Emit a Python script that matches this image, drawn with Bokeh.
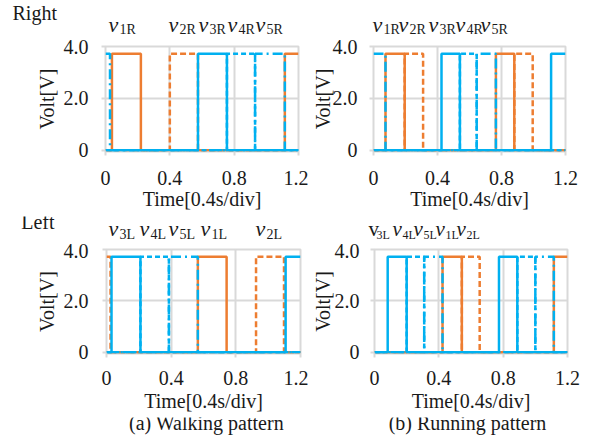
from bokeh.plotting import figure
from bokeh.layouts import row, column
from bokeh.models import FixedTicker, Range1d
from bokeh.core.properties import value
from bokeh.embed import file_html
from bokeh.resources import INLINE

# ---------------- data ----------------
HIGH = 3.72          # high level of every signal [V]
T_END = 1.2

x_ticks = [0, 0.4, 0.8, 1.2]
x_tick_labels = ["0", "0.4", "0.8", "1.2"]
y_ticks = [0, 2, 4]
y_tick_labels = ["0", "2.0", "4.0"]

# (on, off) times of each channel
# (a) walking pattern, right side
walk_v1R = [(0.04, 0.22), (1.115, 1.2)]
walk_v2R = [(0.40, 0.575)]
walk_v3R = [(0.575, 0.755)]
walk_v4R = [(0.755, 0.93)]
walk_v5R = [(0.0, 0.028), (0.93, 1.115)]
# (b) running pattern, right side
run_v1R = [(0.075, 0.195), (0.765, 0.88)]
run_v2R = [(0.195, 0.31), (0.88, 0.995)]
run_v3R = [(0.425, 0.54), (1.11, 1.2)]
run_v4R = [(0.54, 0.645)]
run_v5R = [(0.0, 0.075), (0.645, 0.765)]
# (a) walking pattern, left side
walk_v1L = [(0.565, 0.743)]
walk_v2L = [(0.0, 0.025), (0.925, 1.098)]
walk_v3L = [(0.031, 0.21), (1.108, 1.2)]
walk_v4L = [(0.21, 0.386)]
walk_v5L = [(0.386, 0.565)]
# (b) running pattern, left side
run_v1L = [(0.423, 0.543), (1.115, 1.2)]
run_v2L = [(0.543, 0.654)]
run_v3L = [(0.082, 0.20), (0.774, 0.888)]
run_v4L = [(0.20, 0.309), (0.888, 1.0)]
run_v5L = [(0.309, 0.423), (1.0, 1.115)]

right_names = ["1R", "2R", "3R", "4R", "5R"]
left_names = ["3L", "4L", "5L", "1L", "2L"]
side_titles = ["Right", "Left"]
captions = ["(a) Walking pattern", "(b) Running pattern"]
x_axis_title = "Time[0.4s/div]"
y_axis_title = "Volt[V]"

ORANGE = "#ED7D31"
BLUE = "#00B0F0"
GRID = "#d9d9d9"
TXT = "#1a1a1a"
FONT = "Liberation Serif"
W_ALL = 591
W_LEFT = 308
W_RIGHT = W_ALL - W_LEFT
Y0, Y1 = -0.05, 4.0


def wave(pulses):
    xs, ys = [0.0], [HIGH if pulses[0][0] <= 0 else 0.0]
    for a, b in pulses:
        if a > 0:
            xs += [a, a]
            ys += [0.0, HIGH]
        if b < T_END:
            xs += [b, b]
            ys += [HIGH, 0.0]
        else:
            xs.append(T_END)
            ys.append(HIGH)
    if xs[-1] < T_END:
        xs.append(T_END)
        ys.append(0.0)
    return xs, ys


def make_fig(W, H, box, xs_std, xl_std, ys_std, yl_std):
    fl, ft, fr, fb = box
    p = figure(width=W, height=H, x_range=Range1d(0, T_END), y_range=Range1d(Y0, Y1),
               output_backend="svg", toolbar_location=None, title=None,
               min_border_left=fl, min_border_top=ft,
               min_border_right=W - fr, min_border_bottom=H - fb)
    p.xaxis.ticker = FixedTicker(ticks=x_ticks)
    p.yaxis.ticker = FixedTicker(ticks=y_ticks)
    p.xaxis.major_label_overrides = {t: s for t, s in zip(x_ticks, x_tick_labels)}
    p.yaxis.major_label_overrides = {t: s for t, s in zip(y_ticks, y_tick_labels)}
    p.axis.axis_line_color = None
    p.axis.major_tick_line_color = GRID
    p.axis.major_tick_line_width = 2
    p.axis.major_tick_out = 4
    p.axis.major_tick_in = 0
    p.axis.minor_tick_line_color = None
    p.axis.major_label_text_font = FONT
    p.axis.major_label_text_font_size = "20px"
    p.axis.major_label_text_color = TXT
    p.xaxis.major_label_standoff = xs_std
    p.yaxis.major_label_standoff = ys_std
    p.xaxis.axis_label = x_axis_title
    p.yaxis.axis_label = y_axis_title
    p.axis.axis_label_text_font = FONT
    p.axis.axis_label_text_font_size = "20px"
    p.axis.axis_label_text_font_style = "normal"
    p.axis.axis_label_text_color = TXT
    p.xaxis.axis_label_standoff = xl_std
    p.yaxis.axis_label_standoff = yl_std
    p.grid.grid_line_color = GRID
    p.grid.grid_line_width = 2
    p.outline_line_color = GRID
    p.outline_line_width = 2
    p.background_fill_color = "white"
    p.border_fill_color = "white"
    return p


def draw(p, v1, v2, v3, v4, v5):
    specs = [(v2, ORANGE, "6 3"), (v1, ORANGE, "solid"),
             (v4, BLUE, "5 3"), (v5, BLUE, "10 4 2 4"), (v3, BLUE, "solid")]
    for pulses, col, dash in specs:
        xs, ys = wave(pulses)
        p.line(xs, ys, line_color=col, line_width=2.5, line_dash=dash)


def strip(H):
    """A text-only band whose frame covers the whole canvas (y grows downwards)."""
    s = figure(width=W_ALL, height=H, x_range=Range1d(0, W_ALL), y_range=Range1d(H, 0),
               x_axis_type=None, y_axis_type=None, output_backend="svg",
               toolbar_location=None, title=None, min_border=0)
    s.min_border_left = s.min_border_right = s.min_border_top = s.min_border_bottom = 0
    s.outline_line_color = None
    s.grid.visible = False
    s.background_fill_color = "white"
    s.border_fill_color = "white"
    return s


def put(s, xs, ys, texts, size, style="normal", align="left"):
    dy = 0.42 * size   # the renderer sets the alphabetic baseline this much low
    s.text(x=xs, y=[y - dy for y in ys], text=texts, text_font=value(FONT),
           text_font_size=value(f"{size}px"), text_font_style=style, text_align=align,
           text_baseline="alphabetic", text_color=TXT)


def put_names(s, names, xs, base, sub_base, vsize=22, ssize=14, sub_dx=11, italic=True):
    put(s, xs, [base] * len(xs), ["v"] * len(xs), vsize, "italic" if italic else "normal")
    put(s, [x + sub_dx for x in xs], [sub_base] * len(xs), names, ssize)


# ---- top band (y 0..38): side title + channel names ----
S1 = strip(38)
put(S1, [12], [21], [side_titles[0]], 20)
put_names(S1, right_names, [108, 168, 198, 227, 255], 33.3, 35)
put_names(S1, right_names, [372, 398, 428, 455, 480], 33.3, 35)

# ---- upper scopes (y 38..216) ----
f1 = make_fig(W_LEFT, 178, (105, 8, 298, 113), 15, 0, 13, 3)
f2 = make_fig(W_RIGHT, 178, (370 - W_LEFT, 8, 565 - W_LEFT, 113), 15, 0, 12, -4)

# ---- middle band (y 216..243) ----
S2 = strip(27)
put(S2, [20.7], [13.5], [side_titles[1]], 20)
put_names(S2, left_names, [108, 139, 168, 200, 255], 21.5, 23.5)
put(S2, [368], [21.5], ["v"], 21)
put(S2, [376], [23.5], [left_names[0]], 12)
put_names(S2, left_names[1:], [392, 413, 435, 456], 21.5, 23.5, vsize=21, ssize=12, sub_dx=10)

# ---- lower scopes (y 243..417) ----
f3 = make_fig(W_LEFT, 174, (106, 6, 300, 110), 13, 2, 14, 3)
f4 = make_fig(W_RIGHT, 174, (373 - W_LEFT, 6, 567 - W_LEFT, 110), 13, 2, 11, -2)

# ---- bottom band (y 417..441): captions ----
S3 = strip(24)
put(S3, [206, 467], [14, 14], captions, 20, align="center")

draw(f1, walk_v1R, walk_v2R, walk_v3R, walk_v4R, walk_v5R)
draw(f2, run_v1R, run_v2R, run_v3R, run_v4R, run_v5R)
draw(f3, walk_v1L, walk_v2L, walk_v3L, walk_v4L, walk_v5L)
draw(f4, run_v1L, run_v2L, run_v3L, run_v4L, run_v5L)

layout = column(S1, row(f1, f2, spacing=0), S2, row(f3, f4, spacing=0), S3, spacing=0)
open("out.html", "w").write(file_html(layout, INLINE))
